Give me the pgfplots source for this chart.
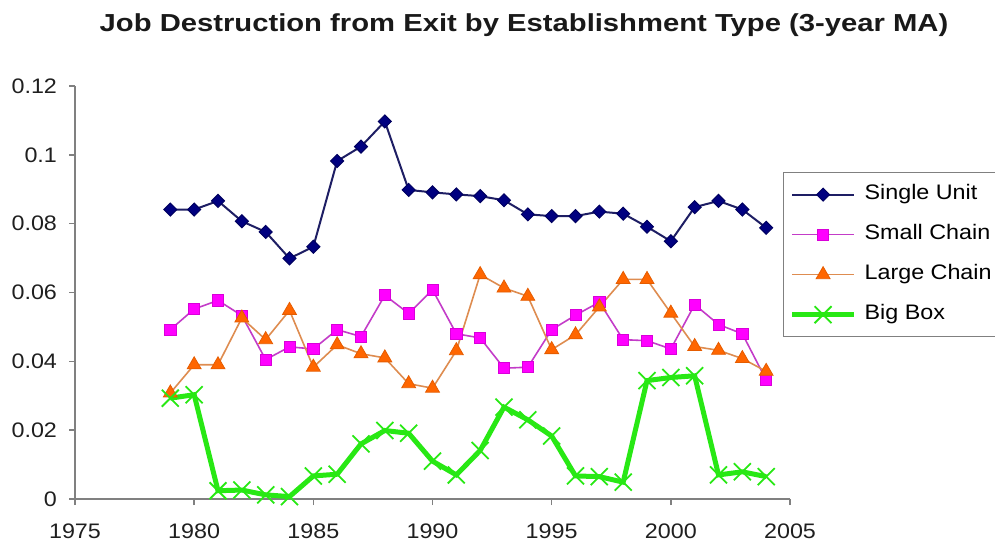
\documentclass[border=0pt]{standalone}
\usepackage{fontspec}
\setmainfont{Liberation Sans}[FakeStretch=1.11]
\usepackage{pgfplots}
\usepackage{pgfplotstable}
\pgfplotsset{compat=1.18}

\definecolor{axisgray}{RGB}{128,128,128}
\definecolor{suLine}{RGB}{30,30,100}
\definecolor{suMark}{RGB}{0,0,128}
\definecolor{scLine}{RGB}{195,60,200}
\definecolor{scMark}{RGB}{255,0,255}
\definecolor{lcLine}{RGB}{222,140,80}
\definecolor{lcMark}{RGB}{255,102,0}
\definecolor{bbLine}{RGB}{40,232,20}

% Job destruction rates from exit, 3-year moving averages
\pgfplotstableread{
year single small  large  big
1979 0.0841 0.0492 0.0308 0.0293
1980 0.0841 0.0552 0.0390 0.0303
1981 0.0866 0.0577 0.0390 0.0024
1982 0.0807 0.0533 0.0526 0.0026
1983 0.0776 0.0405 0.0463 0.0012
1984 0.0699 0.0442 0.0548 0.0007
1985 0.0733 0.0436 0.0383 0.0067
1986 0.0982 0.0492 0.0448 0.0072
1987 0.1024 0.0472 0.0422 0.0160
1988 0.1097 0.0592 0.0410 0.0199
1989 0.0898 0.0539 0.0335 0.0191
1990 0.0891 0.0608 0.0322 0.0110
1991 0.0885 0.0480 0.0431 0.0070
1992 0.0880 0.0468 0.0652 0.0141
1993 0.0868 0.0380 0.0613 0.0267
1994 0.0827 0.0383 0.0589 0.0230
1995 0.0822 0.0492 0.0434 0.0183
1996 0.0822 0.0534 0.0477 0.0067
1997 0.0835 0.0572 0.0558 0.0065
1998 0.0829 0.0463 0.0638 0.0049
1999 0.0791 0.0460 0.0638 0.0344
2000 0.0749 0.0436 0.0540 0.0353
2001 0.0848 0.0565 0.0443 0.0358
2002 0.0866 0.0507 0.0432 0.0070
2003 0.0841 0.0480 0.0408 0.0079
2004 0.0788 0.0346 0.0371 0.0065
}\jobdata

\begin{document}
\begin{tikzpicture}
\path[use as bounding box] (-37.5pt,-23.5pt) rectangle (460pt,249.5pt);
\begin{axis}[
  at={(0pt,0pt)}, anchor=south west,
  scale only axis, width=357.5pt, height=206.5pt,
  xmin=1975, xmax=2005, ymin=0, ymax=0.12,
  axis x line=bottom, axis y line=left,
  axis line style={-, draw=axisgray, line width=0.75pt},
  xtick={1975,1980,1985,1990,1995,2000,2005},
  ytick={0,0.02,0.04,0.06,0.08,0.1,0.12},
  tick align=outside, major tick length=3pt,
  tick style={draw=axisgray, line width=0.75pt},
  minor tick num=0,
  scaled y ticks=false,
  /pgf/number format/assume math mode=true,
  yticklabel style={/pgf/number format/fixed, /pgf/number format/precision=2, xshift=-2.5pt},
  xticklabel style={/pgf/number format/1000 sep={}, yshift=-6pt},
  tick label style={font=\fontsize{10.5}{12}\selectfont, text=black!88},
  clip=false,
  legend cell align=left,
  legend style={
    at={(axis description cs:0.990,0.792)}, anchor=north west,
    draw=axisgray, line width=0.75pt, fill=white,
    inner xsep=3pt, inner ysep=6pt,
    font=\fontsize{10.5}{12}\selectfont,
    nodes={inner sep=0pt, text height=7.5pt, text depth=2.5pt},
    row sep=10pt, column sep=4pt,
  },
  legend image code/.code={
    \draw[mark repeat=2, mark phase=2, #1]
      plot coordinates {(0pt,0pt) (15.5pt,0pt) (31pt,0pt)};
  },
]
\addplot[suLine, line width=1pt, mark=square*, mark size=2.3pt,
  mark options={solid, rotate=45, fill=suMark, draw=suMark!75!black, line width=0.5pt}]
  table[x=year, y=single] {\jobdata};
\addlegendentry{Single Unit}
\addplot[scLine, line width=0.8pt, mark=square*, mark size=2.8pt,
  mark options={solid, fill=scMark, draw=scMark!85!black, line width=0.4pt}]
  table[x=year, y=small] {\jobdata};
\addlegendentry{Small Chain}
\addplot[lcLine, line width=0.8pt, mark=triangle*, mark size=4pt,
  mark options={solid, fill=lcMark, draw=lcMark!90!black, line width=0.4pt}]
  table[x=year, y=large] {\jobdata};
\addlegendentry{Large Chain}
\addplot[bbLine, line width=2.5pt, mark=x, mark size=6pt,
  mark options={solid, draw=bbLine, line width=0.9pt}]
  table[x=year, y=big] {\jobdata};
\addlegendentry{Big Box}
\end{axis}
\node[anchor=base, font=\bfseries\fontsize{12.3}{14}\selectfont, text=black!90,
  xscale=1.07]
  at (224.5pt,233.5pt) {Job Destruction from Exit by Establishment Type (3-year MA)};
\end{tikzpicture}
\end{document}
